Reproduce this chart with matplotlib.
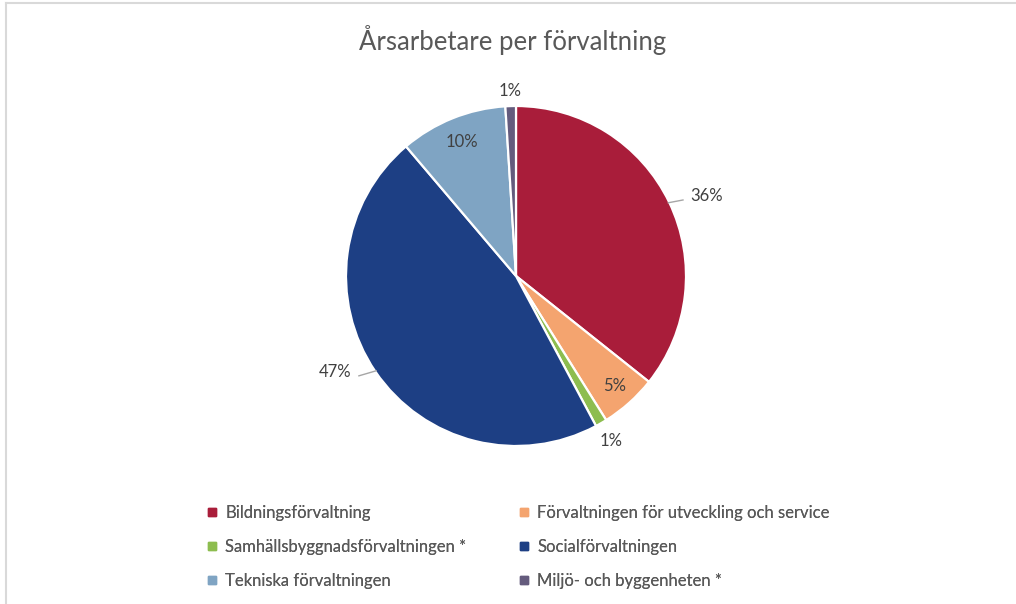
import numpy as np
import matplotlib
matplotlib.use("Agg")
import matplotlib.pyplot as plt
from matplotlib.lines import Line2D

plt.rcParams['font.family'] = ['Lato', 'DejaVu Sans']

# data
categories = ['Bildningsförvaltning',
              'Förvaltningen för utveckling och service',
              'Samhällsbyggnadsförvaltningen *',
              'Socialförvaltningen',
              'Tekniska förvaltningen',
              'Miljö- och byggenheten *']
shares = [35.7, 5.4, 1.1, 46.6, 10.2, 1.0]
colors = ['#A91D3A', '#F4A46F', '#8DBD4F', '#1D3F84', '#7FA4C3', '#645B7D']

# label placement (radius in pie units, angle nudge in degrees, alignment, leader line)
label_r = [1.13, 0.87, 1.12, 1.12, 0.85, 1.09]
label_da = [-1, 0, 0, -4, 0, 0]
label_ha = ['left', 'center', 'center', 'right', 'center', 'center']
leader = [True, False, False, True, False, False]

W, H = 1016, 604
fig = plt.figure(figsize=(W / 100, H / 100), dpi=100)

# chart border (only top/left visible in reference)
fig.add_artist(Line2D([6 / W, 6 / W], [0, 1 - 3 / H], color='#D9D9D9', lw=1.5))
fig.add_artist(Line2D([6 / W, 1], [1 - 3 / H, 1 - 3 / H], color='#D9D9D9', lw=1.5))

cx, cy, r = 516, H - 276, 170
half = 1.5 * r
ax = fig.add_axes([(cx - half) / W, (cy - half) / H, 2 * half / W, 2 * half / H])

wedges, _ = ax.pie(shares, colors=colors, startangle=90, counterclock=False,
                   radius=1.0, wedgeprops=dict(edgecolor='white', linewidth=1.6))
ax.set_xlim(-1.5, 1.5)
ax.set_ylim(-1.5, 1.5)
ax.set_aspect('equal')
ax.axis('off')

for i, w in enumerate(wedges):
    mid = np.deg2rad((w.theta1 + w.theta2) / 2)
    la = mid + np.deg2rad(label_da[i])
    lx, ly = label_r[i] * np.cos(la), label_r[i] * np.sin(la)
    ax.text(lx, ly, f'{shares[i]:.0f}%', ha=label_ha[i], va='center',
            fontsize=12, color='#404040')
    if leader[i]:
        ex, ey = 0.99 * np.cos(mid), 0.99 * np.sin(mid)
        gap = 0.02 if label_ha[i] == 'left' else -0.02
        ax.plot([ex, lx - gap * 2], [ey, ly - 0.025], color='#A6A6A6', lw=1.0,
                solid_capstyle='butt')

fig.text(513 / W, 1 - 40 / H, 'Årsarbetare per förvaltning', ha='center',
         va='center', fontsize=18.5, color='#595959')

handles = [Line2D([], [], marker='s', linestyle='', markersize=6,
                  markerfacecolor=c, markeredgecolor=c) for c in colors]
for col, x in enumerate([207, 519]):
    idx = [col, col + 2, col + 4]
    leg = fig.legend([handles[k] for k in idx], [categories[k] for k in idx],
                     loc='upper left', bbox_to_anchor=(x / W, 1 - 505 / H),
                     frameon=False, fontsize=12, labelcolor='#595959',
                     handlelength=0.6, handletextpad=0.5, labelspacing=1.08,
                     borderpad=0, borderaxespad=0)
    fig.add_artist(leg)

fig.savefig('out.png', dpi=100)
